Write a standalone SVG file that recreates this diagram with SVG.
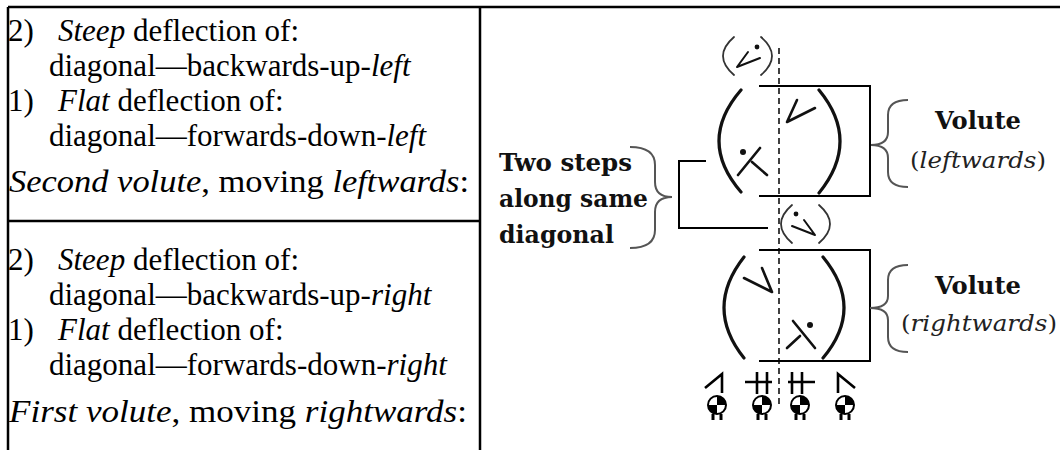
<svg xmlns="http://www.w3.org/2000/svg" width="1060" height="450" viewBox="0 0 1060 450">
<style>
.t{font-family:"Liberation Serif","Times New Roman",serif;font-size:31px;fill:#000}
.i{font-style:italic}
.b{font-family:"DejaVu Serif","Liberation Serif",serif;font-weight:bold;font-size:25px;fill:#111}
.li{font-family:"DejaVu Serif","Liberation Serif",serif;font-style:italic;font-size:23px;fill:#222}
.n{font-style:normal}
.rule{stroke:#000;stroke-width:2.5;fill:none}
.ln{stroke:#000;stroke-width:2;fill:none}
.par{stroke:#111;stroke-width:3.2;fill:none;stroke-linecap:round}
.spar{stroke:#333;stroke-width:1.8;fill:none;stroke-linecap:round}
.gl{stroke:#111;stroke-width:2.6;fill:none;stroke-linecap:round;stroke-linejoin:round}
.st{stroke:#000;stroke-width:2.6;fill:none}
.br{stroke:#555;stroke-width:2;fill:none}
.dash{stroke:#111;stroke-width:1.6;stroke-dasharray:6 4;fill:none}
</style>
<defs>
<g id="ball">
<circle cx="0" cy="0" r="9" fill="#fff" stroke="#000" stroke-width="2"/>
<path d="M0,0 V-9 A9,9 0 0 1 9,0 Z" fill="#000"/>
<path d="M0,0 V9 A9,9 0 0 1 -9,0 Z" fill="#000"/>
<path d="M-4,9 V15 M4,9 V15" stroke="#000" stroke-width="3"/>
</g>
</defs>
<g id="table">
<path class="rule" d="M8,7 H1060 M8,7 V450 M480,7 V450 M8,221 H480"/>
</g>
<g id="text-second-volute">
<text class="t" x="8" y="41">2)</text>
<text class="t" x="58" y="41"><tspan class="i">Steep</tspan> deflection of:</text>
<text class="t" x="49" y="76">diagonal—backwards-up-<tspan class="i">left</tspan></text>
<text class="t" x="8" y="111">1)</text>
<text class="t" x="58" y="111"><tspan class="i">Flat</tspan> deflection of:</text>
<text class="t" x="49" y="146">diagonal—forwards-down-<tspan class="i">left</tspan></text>
<text class="t" x="9" y="192" textLength="460" lengthAdjust="spacingAndGlyphs"><tspan class="i">Second volute</tspan>, moving <tspan class="i">leftwards</tspan>:</text>
</g>
<g id="text-first-volute">
<text class="t" x="8" y="270">2)</text>
<text class="t" x="58" y="270"><tspan class="i">Steep</tspan> deflection of:</text>
<text class="t" x="49" y="305">diagonal—backwards-up-<tspan class="i">right</tspan></text>
<text class="t" x="8" y="340">1)</text>
<text class="t" x="58" y="340"><tspan class="i">Flat</tspan> deflection of:</text>
<text class="t" x="49" y="375">diagonal—forwards-down-<tspan class="i">right</tspan></text>
<text class="t" x="9" y="422" textLength="458" lengthAdjust="spacingAndGlyphs"><tspan class="i">First volute</tspan>, moving <tspan class="i">rightwards</tspan>:</text>
</g>
<g id="centre-line">
<path class="dash" d="M779,48 V408"/>
</g>
<g id="glyph-top">
<path class="spar" d="M734,37 Q712,56 734,75 M761,37 Q783,56 761,75"/>
<path class="gl" style="stroke-width:2" d="M748,52 L737,67 L760,58"/>
<circle cx="757" cy="47" r="2.4" fill="#111"/>
</g>
<g id="volute-upper">
<path class="ln" d="M759,86 H870 V196 H759"/>
<path class="par" d="M741,90 Q697,141 741,192 M819,90 Q861,141 819,193"/>
<path class="gl" d="M797,100 L787,122 L815,108"/>
<path class="gl" d="M738,175 L760,148 M752,162 L767,175"/>
<circle cx="743" cy="152" r="3" fill="#111"/>
</g>
<g id="glyph-middle">
<path class="spar" d="M792,205 Q770,224 792,243 M819,205 Q841,224 819,243"/>
<path class="gl" style="stroke-width:2" d="M804,220 L815,235 L792,226"/>
<circle cx="796" cy="214" r="2.4" fill="#111"/>
</g>
<g id="volute-lower">
<path class="ln" d="M759,250 H870 V361 H759"/>
<path class="par" d="M744,257 Q704,308 744,358 M823,257 Q865,308 823,358"/>
<path class="gl" d="M762,268 L772,292 L744,278"/>
<path class="gl" d="M793,321 L815,348 M800,336 L787,348"/>
<circle cx="810" cy="325" r="3" fill="#111"/>
</g>
<g id="label-two-steps">
<text class="b" x="499" y="171" textLength="133" lengthAdjust="spacingAndGlyphs">Two steps</text>
<text class="b" x="499" y="207" textLength="149" lengthAdjust="spacingAndGlyphs">along same</text>
<text class="b" x="499" y="243" textLength="115" lengthAdjust="spacingAndGlyphs">diagonal</text>
</g>
<g id="label-volute-left">
<text class="b" x="935" y="129" textLength="86" lengthAdjust="spacingAndGlyphs">Volute</text>
<text class="li" x="910" y="168" textLength="136" lengthAdjust="spacingAndGlyphs"><tspan class="n">(</tspan>leftwards<tspan class="n">)</tspan></text>
</g>
<g id="label-volute-right">
<text class="b" x="935" y="294" textLength="86" lengthAdjust="spacingAndGlyphs">Volute</text>
<text class="li" x="901" y="331" textLength="156" lengthAdjust="spacingAndGlyphs"><tspan class="n">(</tspan>rightwards<tspan class="n">)</tspan></text>
</g>
<g id="staff-symbols">
<g id="sym1"><path class="st" d="M705,388 L722,374 V393"/><use href="#ball" x="717" y="405"/></g>
<g id="sym2"><path class="st" d="M745,382 H772 M757,372 V394 M767,372 V394"/><use href="#ball" x="762" y="405"/></g>
<g id="sym3"><path class="st" d="M788,382 H815 M792,372 V394 M802,372 V394"/><use href="#ball" x="800" y="405"/></g>
<g id="sym4"><path class="st" d="M838,393 V374 L855,388"/><use href="#ball" x="845" y="405"/></g>
</g>
<g id="connectors">
<path class="ln" d="M706,161 H679 V228 H768"/>
<path class="br" d="M630,147 Q655,147 655,165 V182 Q655,197 672,197 Q655,197 655,212 V230 Q655,248 630,248"/>
<path class="br" d="M908,100 Q888,100 888,115 V132 Q888,145 871,145 Q888,145 888,158 V172 Q888,187 908,187"/>
<path class="br" d="M908,265 Q888,265 888,280 V296 Q888,308 870,308 Q888,308 888,320 V337 Q888,352 908,352"/>
</g>
</svg>
